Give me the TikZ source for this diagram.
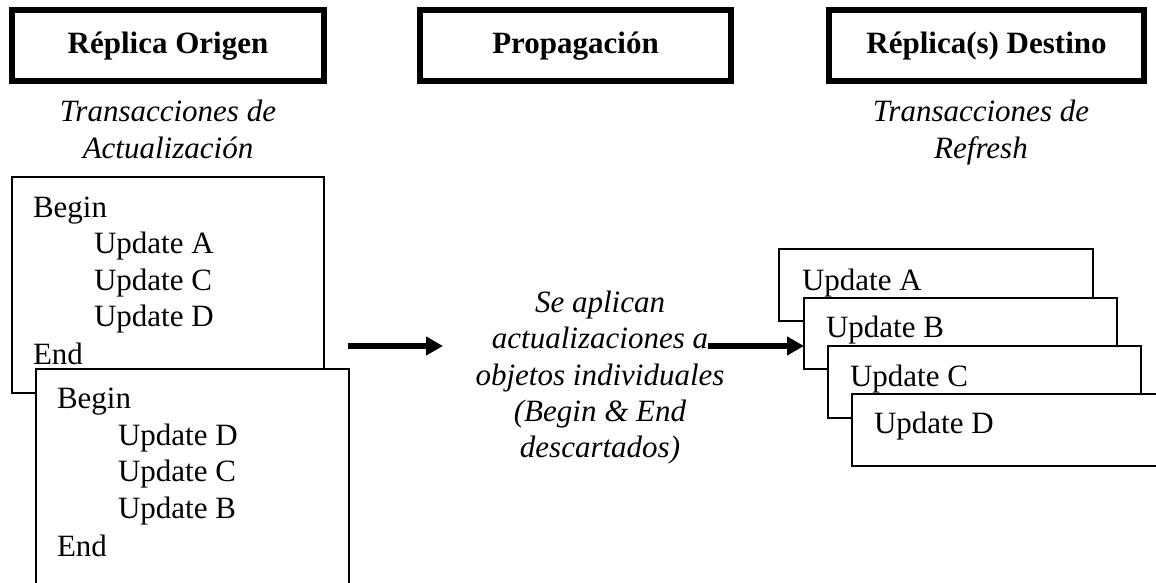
\documentclass[tikz,border=0pt]{standalone}
\usepackage{fontspec}
\setmainfont{Liberation Serif}
\usetikzlibrary{arrows.meta}
\begin{document}
\begin{tikzpicture}[x=1pt,y=-1pt,
  every node/.style={inner sep=0pt, outer sep=0pt, font=\fontsize{31pt}{36.5pt}\selectfont},
  hdr/.style={draw, line width=6pt, anchor=north west, minimum height=71.5pt,
              text height=22pt, text depth=7pt, font=\fontsize{31pt}{36.5pt}\selectfont\bfseries},
  sub/.style={anchor=north, align=center, font=\fontsize{31pt}{36.8pt}\selectfont\itshape},
  txbox/.style={draw, line width=1.6pt, fill=white, anchor=north west},
  ln/.style={anchor=base west},
  bigarrow/.style={line width=6pt, -{Triangle[length=17pt,width=18pt]}}]
\path[use as bounding box, clip] (0,0) rectangle (1156,583);
\fill[white] (0,0) rectangle (1156,583);

% column headers
\node[hdr, minimum width=312pt] (h1) at (12,10) {Réplica Origen};
\node[hdr, minimum width=311pt] (h2) at (420,10) {Propagación};
\node[hdr, minimum width=315pt] (h3) at (829,10) {Réplica(s) Destino};

% column subtitles
\node[sub] (s1) at (168,100) {Transacciones de\\Actualización};
\node[sub] (s3) at (981,100) {Transacciones de\\Refresh};

% source transactions
\node[txbox, minimum width=312pt, minimum height=216pt] (t1) at (12,177) {};
\node[ln] (t1b) at (33,217) {Begin};
\node[ln] (t1u1) at (94,253.5) {Update A};
\node[ln] (t1u2) at (94,290) {Update C};
\node[ln] (t1u3) at (94,326.5) {Update D};
\node[ln] (t1e) at (33,364) {End};

\node[txbox, minimum width=313pt, minimum height=240pt] (t2) at (36,369) {};
\node[ln] (t2b) at (57,408) {Begin};
\node[ln] (t2u1) at (118,445) {Update D};
\node[ln] (t2u2) at (118,481.5) {Update C};
\node[ln] (t2u3) at (118,518) {Update B};
\node[ln] (t2e) at (57,556) {End};

% propagation note
\node[sub, font=\fontsize{31pt}{36.3pt}\selectfont\itshape] (note) at (600,291)
  {Se aplican\\actualizaciones a\\objetos individuales\\(Begin \& End\\descartados)};

% refresh transactions
\node[txbox, minimum width=314pt, minimum height=72pt] (rA) at (779,249) {};
\node[ln] (rAt) at (802,290) {Update A};
\node[txbox, minimum width=313pt, minimum height=71pt] (rB) at (804,298) {};
\node[ln] (rBt) at (826,337) {Update B};
\node[txbox, minimum width=313pt, minimum height=72pt] (rC) at (828,346) {};
\node[ln] (rCt) at (850,386) {Update C};
\node[txbox, minimum width=314pt, minimum height=72pt] (rD) at (852,394) {};
\node[ln] (rDt) at (874,433) {Update D};

% flow arrows
\coordinate (a1s) at (348,346);
\coordinate (a1e) at (443,346);
\coordinate (a2s) at (708,346);
\draw[bigarrow] (a1s) -- (a1e);
\draw[bigarrow] (a2s) -- (a2s -| rB.west);
\end{tikzpicture}
\end{document}
